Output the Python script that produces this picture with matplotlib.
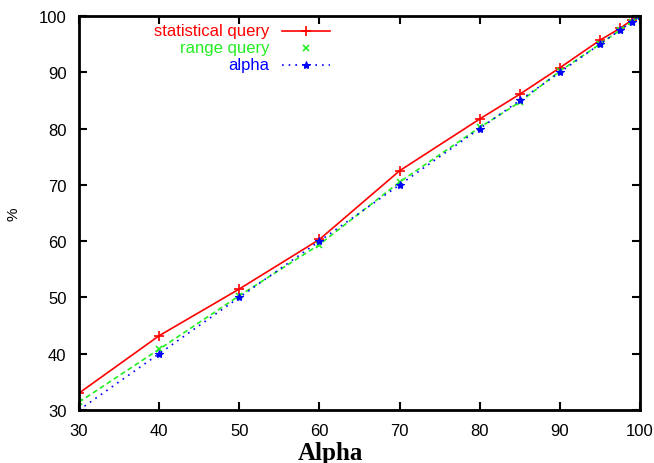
import matplotlib
matplotlib.use('Agg')
import matplotlib.pyplot as plt

# data
alpha = [30, 40, 50, 60, 70, 80, 85, 90, 95, 97.5, 99, 100]
statistical_query = [33.0, 43.2, 51.5, 60.3, 72.5, 81.7, 86.1, 90.8, 95.7, 97.8, 99.3, 100]
range_query = [31.4, 40.8, 50.3, 59.4, 70.5, 80.2, 84.7, 90.2, 95.0, 97.5, 99.0, 100]
alpha_line = [30, 40, 50, 60, 70, 80, 85, 90, 95, 97.5, 99, 100]

labels = ['statistical query', 'range query', 'alpha']
colors = ['#ff0000', '#22ee22', '#0000ff']

plt.rcParams['font.family'] = ['Liberation Sans', 'DejaVu Sans']

fig = plt.figure(figsize=(6.54, 4.64), dpi=100)
ax = fig.add_axes([0.1208, 0.1142, 0.8578, 0.8492])

ax.plot(alpha, statistical_query, color=colors[0], lw=1.2, marker='+', ms=7, mew=1.2)
ax.plot(alpha, range_query, color=colors[1], lw=1.2, ls=(0, (3, 2)), marker='x', ms=5, mew=1.2)
ax.plot(alpha, alpha_line, color=colors[2], lw=1.2, ls=(0, (1, 3)), marker='*', ms=6, mew=0.8)

ax.set_xlim(30, 100)
ax.set_ylim(30, 100)
ax.set_xticks(range(30, 101, 10))
ax.set_yticks(range(30, 101, 10))
ax.tick_params(direction='in', length=6, width=1.5, top=True, right=True,
               labelsize=12, pad=9)
for s in ax.spines.values():
    s.set_linewidth(2)

ax.set_xlabel('Alpha', family='Liberation Serif', fontweight='bold', fontsize=18)
ax.xaxis.set_label_coords(0.449, -0.078)
ax.set_ylabel('%', fontsize=11)
ax.yaxis.set_label_coords(-0.105, 0.5)

# gnuplot style key: right aligned text, sample on the right
key_y = [0.962, 0.919, 0.876]
key_styles = [dict(ls='-', marker='+', ms=7, mew=1.2),
              dict(ls='none', marker='x', ms=5, mew=1.2),
              dict(ls=(0, (1, 3)), marker='*', ms=6, mew=0.8)]
for lab, c, y, st in zip(labels, colors, key_y, key_styles):
    ax.text(0.340, y, lab, color=c, fontsize=12, ha='right', va='center',
            transform=ax.transAxes)
    ax.plot([0.362, 0.447], [y, y], color=c, lw=1.2, transform=ax.transAxes,
            clip_on=False, ls=st['ls'])
    ax.plot([0.405], [y], color=c, transform=ax.transAxes, ls='none',
            marker=st['marker'], ms=st['ms'], mew=st['mew'], clip_on=False)

fig.savefig('out.png', dpi=100)
